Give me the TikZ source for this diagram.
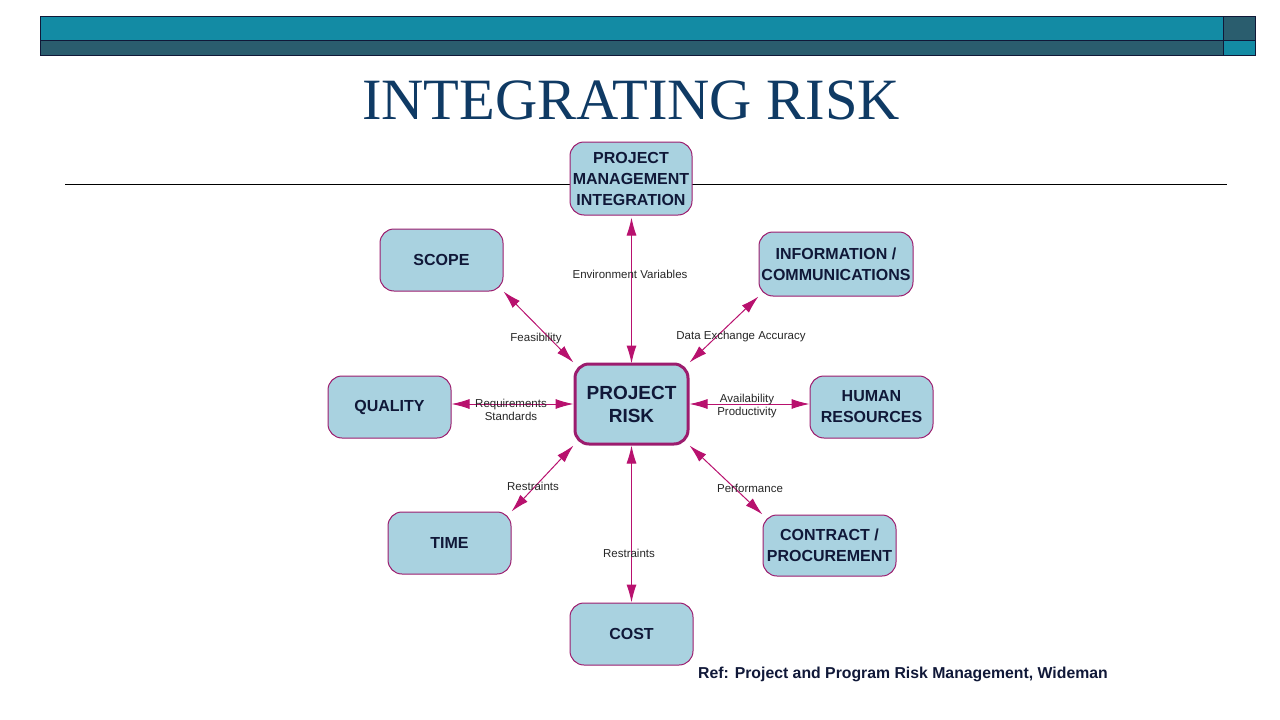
\documentclass[tikz,border=0pt]{standalone}
\usepackage{fontspec}
\setmainfont{Liberation Sans}
\newfontfamily\titlefont{Liberation Serif}
\usetikzlibrary{arrows.meta}

\definecolor{barteal}{HTML}{138BA4}
\definecolor{bardark}{HTML}{2A5D6E}
\definecolor{titleblue}{HTML}{0F3A64}
\definecolor{boxfill}{HTML}{A9D2E0}
\definecolor{boxline}{HTML}{9C1C6E}
\definecolor{linkred}{HTML}{B8116E}
\definecolor{boxtext}{HTML}{101838}

\begin{document}
\begin{tikzpicture}[x=1pt, y=-1pt, line width=1pt,
    area/.style={draw=boxline, fill=boxfill, rounded corners=14pt, align=center,
        text=boxtext, font=\fontsize{16}{21}\selectfont\bfseries,
        minimum width=123pt, minimum height=62pt, inner sep=0pt},
    link/.style={draw=linkred, {Latex[length=18pt,width=10pt]}-{Latex[length=18pt,width=10pt]}},
    tag/.style={font=\fontsize{11.5}{13}\selectfont, text=black!85, align=center, inner sep=0pt}]
    \useasboundingbox (0, 0) rectangle (1280, 720);

    % top bar
    \draw [draw=boxtext, fill=barteal] (40, 16) rectangle (1223, 40);
    \draw [draw=boxtext, fill=bardark] (40, 40) rectangle (1223, 55);
    \draw [draw=boxtext, fill=bardark] (1223, 16) rectangle (1255, 40);
    \draw [draw=boxtext, fill=barteal] (1223, 40) rectangle (1255, 55);

    \node (title) at (631, 100) {\titlefont\fontsize{58.5}{60}\selectfont\color{titleblue}INTEGRATING RISK};
    \draw [black] (65, 184) -- (1227, 184);

    % boxes
    \node [area, minimum width=122pt, minimum height=73pt] (pmi) at (631, 178.5) {PROJECT\\MANAGEMENT\\INTEGRATION};
    \node [area] (scope) at (441.5, 260) {SCOPE};
    \node [area, minimum width=154pt, minimum height=64pt] (info) at (836, 264) {INFORMATION /\\COMMUNICATIONS};
    \node [area] (quality) at (389.5, 407) {QUALITY};
    \node [area, line width=3pt, minimum width=113pt, minimum height=80pt,
        font=\fontsize{19}{23}\selectfont\bfseries] (risk) at (631.5, 404) {PROJECT\\RISK};
    \node [area] (hr) at (871.5, 407) {HUMAN\\RESOURCES};
    \node [area] (time) at (449.5, 543) {TIME};
    \node [area, minimum width=133pt, minimum height=61pt] (contract) at (829.5, 545.5) {CONTRACT /\\PROCUREMENT};
    \node [area] (cost) at (631.5, 634) {COST};

    % connectors
    \draw [link] (pmi.south -| risk.north) ++(0, 2) -- ([yshift=-1pt]risk.north);
    \draw [link] (scope.south east) -- (risk.north west);
    \draw [link] (info.south west) -- (risk.north east);
    \draw [link] (risk.west -| quality.east) -- (risk.west);
    \draw [link] (risk.east) -- (risk.east -| hr.west);
    \draw [link] (time.north east) -- (risk.south west);
    \draw [link] (contract.north west) -- (risk.south east);
    \draw [link] (risk.south) -- (cost.north);

    % labels
    \node [tag] (envvar) at (630, 274) {Environment Variables};
    \node [tag] (feas) at (536, 339) {Feasibility};
    \node [tag] (dataacc) at (741, 337) {Data Exchange Accuracy};
    \node [tag] (reqstd) at (511, 410) {Requirements\\Standards};
    \node [tag] (avail) at (747, 406) {Availability\\Productivity};
    \node [tag] (restr1) at (533, 486) {Restraints};
    \node [tag] (perf) at (750, 488) {Performance};
    \node [tag] (restr2) at (629, 553) {Restraints};

    \node [font=\fontsize{15.8}{18}\selectfont\bfseries, text=boxtext] (ref) at (903, 674) {Ref: Project and Program Risk Management, Wideman};
\end{tikzpicture}
\end{document}
